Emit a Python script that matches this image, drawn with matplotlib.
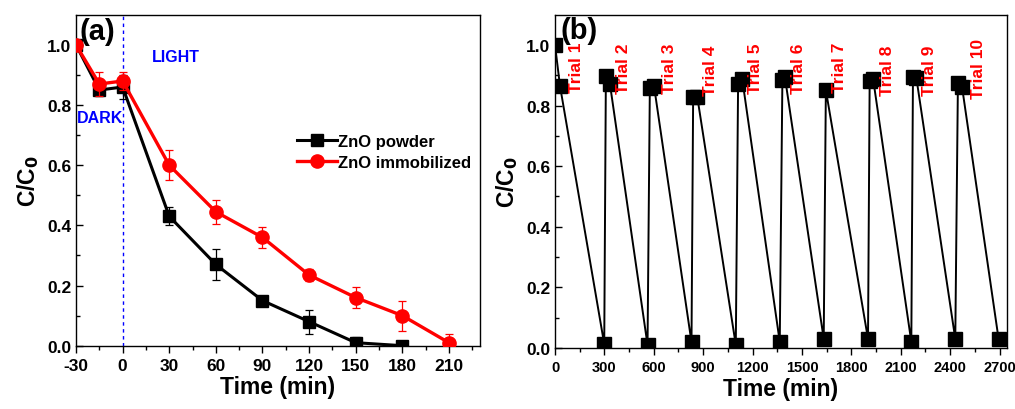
import numpy as np
import matplotlib
matplotlib.use("Agg")
import matplotlib.pyplot as plt
from matplotlib.lines import Line2D

plt.rcParams['font.family'] = ['Liberation Sans', 'DejaVu Sans']
plt.rcParams['font.weight'] = 'bold'
plt.rcParams['axes.unicode_minus'] = False

# panel (a)
time_a = [-30, -15, 0, 30, 60, 90, 120, 150, 180]
powder = [1.0, 0.85, 0.86, 0.43, 0.27, 0.15, 0.08, 0.01, 0.0]
powder_err = [0.0, 0.02, 0.04, 0.03, 0.05, 0.01, 0.04, 0.02, 0.005]
time_imm = [-30, -15, 0, 30, 60, 90, 120, 150, 180, 210]
immob = [1.0, 0.87, 0.88, 0.60, 0.445, 0.36, 0.235, 0.16, 0.10, 0.01]
immob_err = [0.0, 0.04, 0.03, 0.05, 0.04, 0.035, 0.02, 0.035, 0.05, 0.03]

# panel (b)
time_b = [0, 30, 299, 309, 334, 562, 576, 601, 829, 839, 864, 1098, 1112, 1137,
          1365, 1381, 1396, 1632, 1645, 1901, 1911, 1932, 2164, 2174, 2195,
          2431, 2447, 2472, 2694]
cycles = [1.0, 0.866, 0.013, 0.899, 0.87, 0.01, 0.859, 0.866, 0.019, 0.829, 0.829,
          0.01, 0.87, 0.888, 0.02, 0.884, 0.895, 0.03, 0.851, 0.03, 0.881, 0.888,
          0.02, 0.895, 0.89, 0.03, 0.873, 0.862, 0.03]
trial_names = ["Trial 1", "Trial 2", "Trial 3", "Trial 4", "Trial 5",
               "Trial 6", "Trial 7", "Trial 8", "Trial 9", "Trial 10"]
trial_x = [133, 419, 698, 945, 1220, 1476, 1725, 2022, 2275, 2569]
trial_y = [0.846, 0.84, 0.84, 0.836, 0.84, 0.84, 0.846, 0.836, 0.836, 0.824]

fig = plt.figure(figsize=(10.15, 4.1), dpi=100)
ax1 = fig.add_axes([0.0749, 0.1544, 0.398, 0.807])
ax2 = fig.add_axes([0.5468, 0.1488, 0.4453, 0.813])

def style(ax, xsize=12.5):
    for s in ax.spines.values():
        s.set_linewidth(1.0)
    ax.tick_params(axis='x', which='both', direction='out', labelsize=xsize)
    ax.tick_params(axis='y', which='both', direction='in', labelsize=12.5)
    ax.tick_params(which='major', length=5, width=1)
    ax.tick_params(which='minor', length=3, width=1)
    for lab in ax.get_xticklabels() + ax.get_yticklabels():
        lab.set_fontweight('bold')

# (a)
ax1.errorbar(time_a, powder, yerr=powder_err, color='black', marker='s', ms=8.5,
             lw=2.2, elinewidth=0.9, capsize=3, capthick=0.9, zorder=3)
ax1.errorbar(time_imm, immob, yerr=immob_err, color='red', marker='o', ms=9.5,
             lw=2.4, elinewidth=0.9, capsize=3, capthick=0.9, zorder=4)
ax1.axvline(0, color='blue', ls=(0, (2.5, 2.5)), lw=1.0, zorder=2)
ax1.set_xlim(-30, 230)
ax1.set_ylim(0, 1.1)
ax1.set_xticks(np.arange(-30, 211, 30))
ax1.set_xticks(np.arange(-30, 231, 15), minor=True)
ax1.set_yticks(np.arange(0, 1.01, 0.2))
ax1.set_yticks(np.arange(0, 1.1, 0.1), minor=True)
ax1.set_yticklabels([f"{v:.1f}" for v in np.arange(0, 1.01, 0.2)])
ax1.set_xlabel('Time (min)', fontsize=16.5, fontweight='bold', labelpad=2)
ax1.set_ylabel('C/C$_\\mathbf{0}$', fontsize=16.5, fontweight='bold', labelpad=4)
ax1.text(-28, 1.045, '(a)', fontsize=21, fontweight='bold', va='center', ha='left')
ax1.text(-29.5, 0.76, 'DARK', color='blue', fontsize=11.5, fontweight='bold', va='center')
ax1.text(34, 0.96, 'LIGHT', color='blue', fontsize=11.5, fontweight='bold', va='center', ha='center')
handles = [Line2D([], [], color='black', marker='s', ms=8.5, lw=2.2),
           Line2D([], [], color='red', marker='o', ms=9.5, lw=2.4)]
ax1.legend(handles, ['ZnO powder', 'ZnO immobilized'], loc='center left',
           bbox_to_anchor=(0.53, 0.585), frameon=False,
           handlelength=2.4, handletextpad=0.1, borderaxespad=0, labelspacing=0.35,
           prop={'weight': 'bold', 'size': 12})
style(ax1)

# (b)
ax2.plot(time_b, cycles, color='black', marker='s', ms=9.5, lw=1.4, zorder=3)
ax2.set_xlim(0, 2745)
ax2.set_ylim(0, 1.1)
ax2.set_xticks(np.arange(0, 2701, 300))
ax2.set_xticks(np.arange(0, 2745, 150), minor=True)
ax2.set_yticks(np.arange(0, 1.01, 0.2))
ax2.set_yticks(np.arange(0, 1.1, 0.1), minor=True)
ax2.set_yticklabels([f"{v:.1f}" for v in np.arange(0, 1.01, 0.2)])
ax2.set_xlabel('Time (min)', fontsize=16.5, fontweight='bold', labelpad=2)
ax2.set_ylabel('C/C$_\\mathbf{0}$', fontsize=16.5, fontweight='bold', labelpad=4)
for name, tx, ty in zip(trial_names, trial_x, trial_y):
    ax2.text(tx, ty, name, rotation=90, color='red', fontsize=12.5, fontweight='bold',
             ha='center', va='bottom', zorder=4)
ax2.text(35, 1.05, '(b)', fontsize=21, fontweight='bold', va='center', ha='left', zorder=5)
style(ax2, xsize=10.5)

fig.savefig('out.png', dpi=100)
